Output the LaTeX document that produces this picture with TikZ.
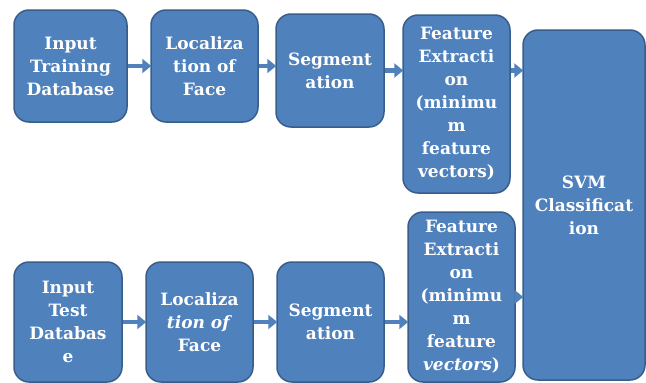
\documentclass[tikz,border=0pt]{standalone}
\usepackage{fontspec}
\setmainfont{DejaVu Serif}
\usepackage{xcolor}
\definecolor{boxblue}{RGB}{79,129,189}
\definecolor{boxedge}{RGB}{56,93,138}
\usepackage{tikz}
\usetikzlibrary{arrows.meta,positioning,calc}

\begin{document}
\begin{tikzpicture}[x=1pt,y=-1pt,
  stage/.style={draw=boxedge,line width=1.5pt,fill=boxblue,rounded corners=15pt,
    text=white,align=center,font=\fontsize{17}{23}\selectfont\bfseries,inner sep=2pt},
  flow/.style={boxblue,line width=4.5pt,-{Triangle[length=9pt,width=14pt]},shorten >=-1pt}
]
  \useasboundingbox (0,0) rectangle (646,383);
  % training path
  \node[stage,minimum width=113pt,minimum height=112pt] (tr1) at (70.5,66) {Input\\Training\\Database};
  \node[stage,minimum width=107pt,minimum height=112pt] (tr2) at (204.5,66) {Localiza\\tion of\\Face};
  \node[stage,minimum width=108pt,minimum height=113pt] (tr3) at (330,70.5) {Segment\\ation};
  \node[stage,minimum width=107pt,minimum height=178pt] (tr4) at (456.5,104) {Feature\\Extracti\\on\\(minimu\\m\\feature\\vectors)};
  % classifier
  \node[stage,minimum width=122pt,minimum height=350pt] (svm) at (584,205) {SVM\\Classificat\\ion};
  % test path
  \node[stage,minimum width=108pt,minimum height=120pt] (te1) at (68,322) {Input\\Test\\Databas\\e};
  \node[stage,minimum width=107pt,minimum height=120pt] (te2) at (199.5,322) {Localiza\\\textit{tion of}\\Face};
  \node[stage,minimum width=107pt,minimum height=120pt] (te3) at (330.5,322) {Segment\\ation};
  \node[stage,minimum width=107pt,minimum height=170pt] (te4) at (461.5,297) {Feature\\Extracti\\on\\(minimu\\m\\feature\\\textit{vectors})};

  \draw[flow] (tr1.east) -- (tr2.west);
  \draw[flow] (tr2.east) -- (tr2.east -| tr3.west);
  \draw[flow] (tr3.east) -- (tr3.east -| tr4.west);
  \draw[flow] (tr3.east -| tr4.east) -- (tr3.east -| svm.west);
  \draw[flow] (te1.east) -- (te2.west);
  \draw[flow] (te2.east) -- (te3.west);
  \draw[flow] (te3.east) -- (te3.east -| te4.west);
  \draw[flow] (te4.east) -- (te4.east -| svm.west);
\end{tikzpicture}
\end{document}
